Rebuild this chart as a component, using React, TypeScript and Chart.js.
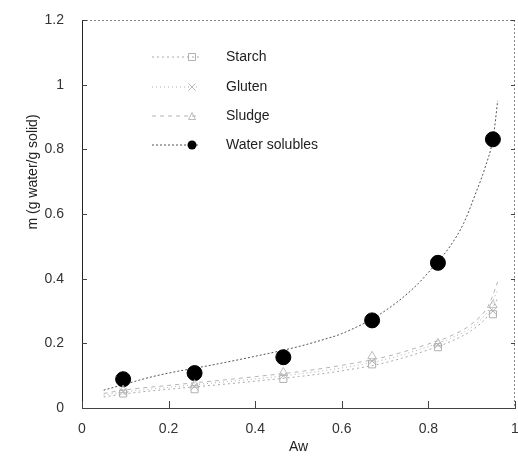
import React, { useEffect, useRef } from "react";
import { Chart, registerables } from "chart.js";

Chart.register(...registerables);

// Measured points
const awPoints = [0.095, 0.26, 0.465, 0.67, 0.822, 0.949];
const starch = [0.045, 0.058, 0.09, 0.135, 0.188, 0.29];
const gluten = [0.05, 0.066, 0.1, 0.145, 0.195, 0.3];
const sludge = [0.055, 0.072, 0.11, 0.16, 0.2, 0.318];
const waterSolubles = [0.089, 0.108, 0.157, 0.271, 0.449, 0.831];

// Fitted curves
const waterFitAw = [0.05, 0.1, 0.157, 0.2, 0.3, 0.4, 0.5, 0.566, 0.6, 0.688, 0.765, 0.82, 0.85, 0.881, 0.908, 0.93, 0.95, 0.96];
const waterFit = [0.055, 0.074, 0.095, 0.108, 0.133, 0.16, 0.19, 0.215, 0.23, 0.29, 0.37, 0.45, 0.5, 0.57, 0.66, 0.74, 0.84, 0.95];
const otherFitAw = [0.05, 0.1, 0.2, 0.3, 0.4, 0.5, 0.6, 0.7, 0.8, 0.85, 0.9, 0.94, 0.96];
const starchFit = [0.034, 0.044, 0.058, 0.07, 0.083, 0.097, 0.115, 0.14, 0.18, 0.205, 0.24, 0.29, 0.34];
const glutenFit = [0.04, 0.05, 0.064, 0.077, 0.09, 0.105, 0.124, 0.15, 0.19, 0.215, 0.25, 0.305, 0.365];
const sludgeFit = [0.045, 0.056, 0.07, 0.083, 0.097, 0.112, 0.132, 0.158, 0.198, 0.222, 0.26, 0.32, 0.39];

const seriesLabels = ["Starch", "Gluten", "Sludge", "Water solubles"];
const xTicks = [0, 0.2, 0.4, 0.6, 0.8, 1];
const yTicks = [0, 0.2, 0.4, 0.6, 0.8, 1, 1.2];
const xTitle = "Aw";
const yTitle = "m (g water/g solid)";

const FONT = "'Liberation Sans', Arial, sans-serif";

const styles = [
  { color: "#b0b0b0", line: "#a8a8a8", dash: [2, 3], point: "rect", radius: 5, fill: "rgba(0,0,0,0)" },
  { color: "#b8b8b8", line: "#b0b0b0", dash: [1, 3], point: "crossRot", radius: 5, fill: "rgba(0,0,0,0)" },
  { color: "#bcbcbc", line: "#b4b4b4", dash: [4, 4], point: "triangle", radius: 5, fill: "rgba(0,0,0,0)" },
  { color: "#000000", line: "#555555", dash: [2, 2], point: "circle", radius: 7.5, fill: "#000000" },
];

const toXY = (xs: number[], ys: number[]) => xs.map((x, i) => ({ x, y: ys[i] }));

const decorPlugin = {
  id: "decor",
  afterDraw(chart: any) {
    const { ctx, chartArea } = chart;
    const { left, right, top, bottom } = chartArea;
    const xs = chart.scales.x;
    const ys = chart.scales.y;
    ctx.save();
    // frame top/right dotted
    ctx.strokeStyle = "#888";
    ctx.lineWidth = 1;
    ctx.setLineDash([2, 2]);
    ctx.beginPath();
    ctx.moveTo(left, top + 0.5);
    ctx.lineTo(right, top + 0.5);
    ctx.moveTo(right - 0.5, top);
    ctx.lineTo(right - 0.5, bottom);
    ctx.stroke();
    ctx.setLineDash([]);
    // inward ticks
    ctx.strokeStyle = "#444";
    ctx.beginPath();
    yTicks.forEach((v) => {
      const y = Math.round(ys.getPixelForValue(v)) + 0.5;
      ctx.moveTo(left, y);
      ctx.lineTo(left + 5, y);
      ctx.moveTo(right, y);
      ctx.lineTo(right - 4, y);
    });
    xTicks.forEach((v) => {
      const x = Math.round(xs.getPixelForValue(v)) + 0.5;
      ctx.moveTo(x, bottom);
      ctx.lineTo(x, bottom - 7);
    });
    ctx.stroke();
    // titles
    ctx.fillStyle = "#222";
    ctx.font = `14px ${FONT}`;
    ctx.textAlign = "center";
    ctx.textBaseline = "middle";
    ctx.fillText(xTitle, (left + right) / 2, 447);
    ctx.save();
    ctx.translate(33, 172);
    ctx.rotate(-Math.PI / 2);
    ctx.fillText(yTitle, 0, 0);
    ctx.restore();
    // legend
    const rowY = [57, 87, 116, 145];
    seriesLabels.forEach((label, i) => {
      const s = styles[i];
      const y = rowY[i];
      ctx.strokeStyle = s.line;
      ctx.lineWidth = 1;
      ctx.setLineDash(s.dash);
      ctx.beginPath();
      ctx.moveTo(152, y);
      ctx.lineTo(200, y);
      ctx.stroke();
      ctx.setLineDash([]);
      const r = i === 3 ? 4.5 : 3.5;
      ctx.strokeStyle = s.color;
      ctx.fillStyle = s.fill;
      ctx.beginPath();
      if (s.point === "circle") {
        ctx.arc(192, y, r, 0, Math.PI * 2);
        ctx.fill();
      } else if (s.point === "rect") {
        ctx.rect(192 - r, y - r, 2 * r, 2 * r);
        ctx.stroke();
      } else if (s.point === "crossRot") {
        ctx.moveTo(192 - r, y - r);
        ctx.lineTo(192 + r, y + r);
        ctx.moveTo(192 + r, y - r);
        ctx.lineTo(192 - r, y + r);
        ctx.stroke();
      } else {
        ctx.moveTo(192, y - r);
        ctx.lineTo(192 + r, y + r);
        ctx.lineTo(192 - r, y + r);
        ctx.closePath();
        ctx.stroke();
      }
      ctx.fillStyle = "#222";
      ctx.font = `14px ${FONT}`;
      ctx.textAlign = "left";
      ctx.fillText(label, 226, y);
    });
    ctx.restore();
  },
};

export default function App() {
  const ref = useRef<HTMLCanvasElement>(null);
  useEffect(() => {
    if (!ref.current) return;
    const pointSets = [starch, gluten, sludge, waterSolubles];
    const fitSets = [
      toXY(otherFitAw, starchFit),
      toXY(otherFitAw, glutenFit),
      toXY(otherFitAw, sludgeFit),
      toXY(waterFitAw, waterFit),
    ];
    const datasets: any[] = [];
    seriesLabels.forEach((label, i) => {
      const s = styles[i];
      datasets.push({
        type: "line",
        label: label + " fit",
        data: fitSets[i],
        borderColor: s.line,
        borderWidth: 1,
        borderDash: s.dash,
        pointRadius: 0,
        fill: false,
        cubicInterpolationMode: "monotone",
        order: 2,
      });
      datasets.push({
        type: "scatter",
        label,
        data: toXY(awPoints, pointSets[i]),
        pointStyle: s.point,
        pointRadius: s.radius,
        borderColor: s.color,
        backgroundColor: s.fill,
        pointBorderWidth: 1,
        showLine: false,
        order: 1,
      });
    });
    const chart = new Chart(ref.current, {
      type: "scatter",
      data: { datasets },
      options: {
        responsive: false,
        animation: false,
        layout: { autoPadding: false, padding: { top: 20, right: 3, left: 0, bottom: 0 } },
        plugins: { legend: { display: false }, tooltip: { enabled: false } },
        scales: {
          x: {
            type: "linear",
            min: 0,
            max: 1,
            afterBuildTicks: (s: any) => {
              s.ticks = xTicks.map((v) => ({ value: v }));
            },
            afterFit: (s: any) => {
              s.height = 60;
              s.paddingLeft = 0;
              s.paddingRight = 0;
            },
            ticks: {
              padding: 13,
              color: "#333",
              font: { family: FONT, size: 14 },
              callback: (v: any) => String(v),
              maxRotation: 0,
            },
            grid: { display: false, drawTicks: false },
            border: { display: true, color: "#444", width: 1 },
          },
          y: {
            type: "linear",
            min: 0,
            max: 1.2,
            afterBuildTicks: (s: any) => {
              s.ticks = yTicks.map((v) => ({ value: v }));
            },
            afterFit: (s: any) => {
              s.width = 82;
              s.paddingTop = 0;
              s.paddingBottom = 0;
            },
            ticks: {
              padding: 18,
              color: "#333",
              font: { family: FONT, size: 14 },
              callback: (v: any) => String(Math.round(v * 10) / 10),
            },
            grid: { display: false, drawTicks: false },
            border: { display: true, color: "#222", width: 1 },
          },
        },
      },
      plugins: [decorPlugin],
    });
    return () => chart.destroy();
  }, []);
  return (
    <div style={{ position: "absolute", left: 0, top: 0, width: 518, height: 468, background: "#fff" }}>
      <canvas ref={ref} width={518} height={468} style={{ display: "block" }} />
    </div>
  );
}
